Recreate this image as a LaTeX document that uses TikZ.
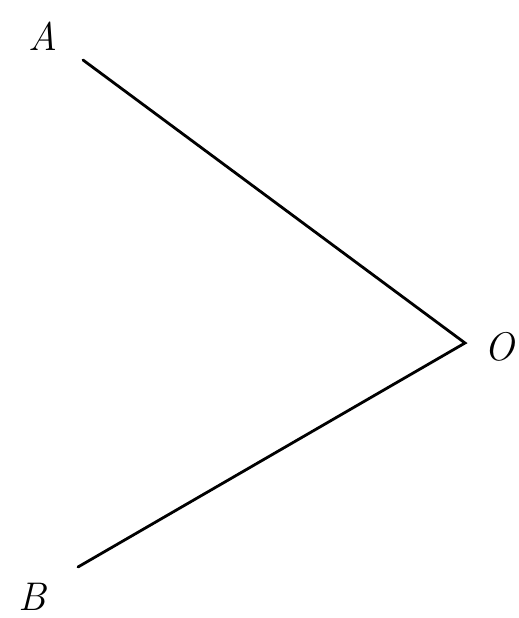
\documentclass[tikz,border=0pt]{standalone}
\begin{document}
\begin{tikzpicture}[x=1pt,y=-1pt,
  seg/.style={line width=2.8pt, line cap=round},
  lbl/.style={font=\fontsize{40}{46}\selectfont\itshape, inner sep=0pt}]
\useasboundingbox (0,0) rectangle (519,618);
\coordinate (a) at (83,60);
\coordinate (o) at (465,343);
\coordinate (b) at (78,567);
\draw[seg] (a) -- (o) -- (b);
\node[lbl] (A) at (43,36) {A};
\node[lbl] (O) at (499,347) {O};
\node[lbl] (B) at (32,597) {B};
\end{tikzpicture}
\end{document}
